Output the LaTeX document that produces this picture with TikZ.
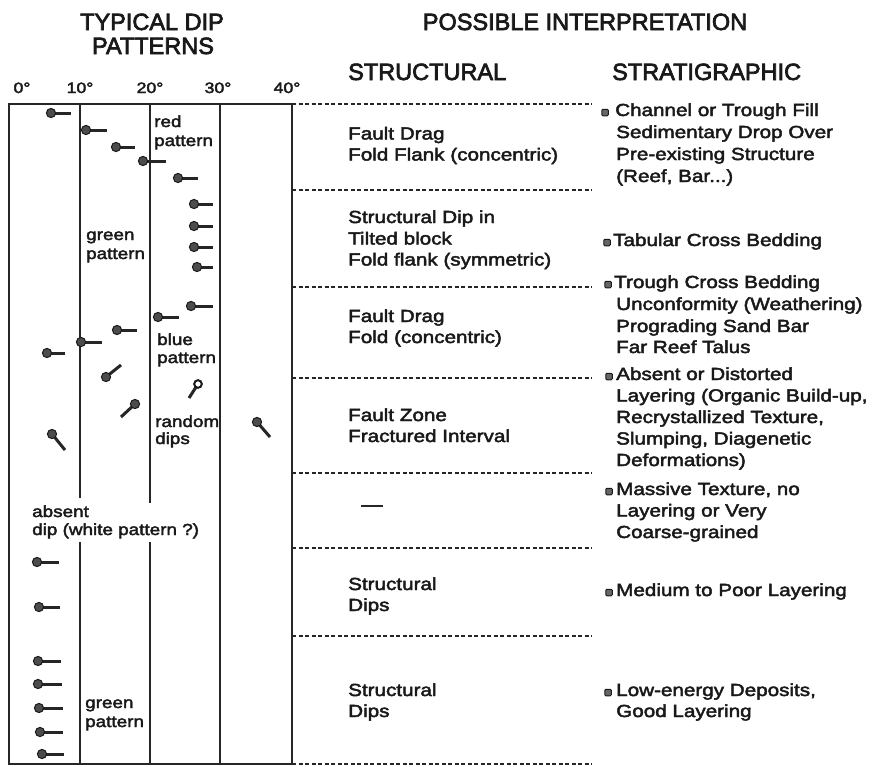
\documentclass[tikz,border=0pt]{standalone}
\usepackage{fontspec}
\setmainfont{Liberation Sans}[FakeStretch=1.18, FakeBold=2.6]
\newfontfamily\headfont{Liberation Sans}[FakeBold=3]
% dip marker: filled head at (#1,#2), tail ending at (#3,#4)
\newcommand\dippin[4]{%
  \draw[tadtail] (#1,#2) -- (#3,#4);
  \filldraw[tadhead] (#1,#2) circle (4.6);}
% dip marker with an open head
\newcommand\dipopen[4]{%
  \draw[tadtail] (#1,#2) -- (#3,#4);
  \filldraw[fill=white, draw=black!90, line width=2pt] (#1,#2) circle (3.8);}
\begin{document}
\begin{tikzpicture}[x=1pt, y=-1pt,
  boxline/.style={line width=1.6pt, draw=black!85},
  divider/.style={line width=1.5pt, dash pattern=on 4pt off 2.5pt, draw=black!85},
  heading/.style={font=\headfont\fontsize{23.5}{28}\selectfont, inner sep=0pt, anchor=base, text=black!90},
  body/.style={font=\fontsize{17.5}{21}\selectfont, anchor=base west, inner sep=0pt, text=black!90},
  tag/.style={font=\fontsize{16}{19}\selectfont, anchor=base west, inner sep=0pt, text=black!90},
  degree/.style={font=\fontsize{15}{18}\selectfont, anchor=base, inner sep=0pt, text=black!90},
  bullet/.style={rectangle, rounded corners=1pt, minimum size=6.5pt, inner sep=0pt, fill=black!60, draw=black!90, line width=1pt},
  tadtail/.style={line width=3pt, draw=black!85},
  tadhead/.style={fill=black!70, draw=black!90, line width=1pt},
]
\useasboundingbox (0,0) rectangle (878,766);

% ---- titles ----
\node[heading] (t1) at (152,30) {TYPICAL DIP};
\node[heading] (t2) at (153,54) {PATTERNS};
\node[heading] (t3) at (585,30) {POSSIBLE INTERPRETATION};
\node[heading, anchor=base west] (t4) at (348,80) {STRUCTURAL};
\node[heading, anchor=base west] (t5) at (612,80) {STRATIGRAPHIC};

% ---- dip scale ----
\node[degree] (d0) at (22,93) {0°};
\node[degree] (d1) at (80,93) {10°};
\node[degree] (d2) at (150,93) {20°};
\node[degree] (d3) at (218,93) {30°};
\node[degree] (d4) at (287,93) {40°};

% ---- dip track ----
\coordinate (tl) at (9,104);
\coordinate (br) at (292,764);
\draw[boxline] (tl) rectangle (br);
\draw[boxline] (80,104) -- (80,498) (80,542) -- (80,764);
\draw[boxline] (150,104) -- (150,503) (150,542) -- (150,764);
\draw[boxline] (220,104) -- (220,764);

% ---- interval dividers ----
\foreach \y in {104,190,287,378,473,548,636,764}
  \draw[divider] (292,\y) -- (592,\y);

% ---- dip markers ----
\dippin{51}{113}{71}{113}
\dippin{86}{130}{107}{130}
\dippin{116}{147}{135}{147}
\dippin{143}{161}{166}{161}
\dippin{178}{178}{198}{178}
\dippin{194}{204}{213}{204}
\dippin{194}{226}{213}{226}
\dippin{194}{247}{213}{247}
\dippin{197}{267}{213}{267}
\dippin{191}{306}{213}{306}
\dippin{158}{317}{179}{317}
\dippin{117}{330}{137}{330}
\dippin{81}{342}{102}{342}
\dippin{47}{353}{65}{353}
\dippin{106}{377}{121}{365}
\dippin{135}{404}{121}{417}
\dipopen{198}{384}{189}{398}
\dippin{52}{434}{65}{450}
\dippin{257}{422}{270}{437}
\dippin{37}{562}{59}{562}
\dippin{39}{607}{60}{607}
\dippin{38}{661}{61}{661}
\dippin{38}{684}{62}{684}
\dippin{39}{708}{63}{708}
\dippin{40}{732}{63}{732}
\dippin{42}{754}{64}{754}

% ---- pattern labels ----
\node[tag] (p1) at (154,127) {red};
\node[tag] (p2) at (154,146) {pattern};
\node[tag] (p3) at (86,240) {green};
\node[tag] (p4) at (86,259) {pattern};
\node[tag] (p5) at (157,345) {blue};
\node[tag] (p6) at (157,363) {pattern};
\node[tag] (p7) at (155,427) {random};
\node[tag] (p8) at (155,444) {dips};
\node[tag] (p9) at (32,517) {absent};
\node[tag] (p10) at (32,535) {dip (white pattern ?)};
\node[tag] (p11) at (85,708) {green};
\node[tag] (p12) at (85,727) {pattern};

% ---- structural interpretation ----
\node[body] (s1) at (348,139.5) {Fault Drag};
\node[body] (s2) at (348,160.5) {Fold Flank (concentric)};
\node[body] (s3) at (348,223) {Structural Dip in};
\node[body] (s4) at (348,244.5) {Tilted block};
\node[body] (s5) at (348,265.5) {Fold flank (symmetric)};
\node[body] (s6) at (348,322) {Fault Drag};
\node[body] (s7) at (348,343) {Fold (concentric)};
\node[body] (s8) at (348,421) {Fault Zone};
\node[body] (s9) at (348,442) {Fractured Interval};
\coordinate (n1) at (361,506);
\coordinate (n2) at (383,506);
\draw[line width=1.4pt, draw=black!85] (n1) -- (n2);
\node[body] (s10) at (348,590) {Structural};
\node[body] (s11) at (348,611) {Dips};
\node[body] (s12) at (348,696) {Structural};
\node[body] (s13) at (348,717) {Dips};

% ---- stratigraphic interpretation ----
\node[bullet] (b1) at (605,112.5) {};
\node[body] (r1) at (615,116) {Channel or Trough Fill};
\node[body] (r2) at (616,138) {Sedimentary Drop Over};
\node[body] (r3) at (616,160) {Pre-existing Structure};
\node[body] (r4) at (616,182) {(Reef, Bar...)};
\node[bullet] (b2) at (607,242.5) {};
\node[body] (r5) at (613,246) {Tabular Cross Bedding};
\node[bullet] (b3) at (608,284.5) {};
\node[body] (r6) at (614,288) {Trough Cross Bedding};
\node[body] (r7) at (616,310) {Unconformity (Weathering)};
\node[body] (r8) at (616,332) {Prograding Sand Bar};
\node[body] (r9) at (616,353) {Far Reef Talus};
\node[bullet] (b4) at (609,376.5) {};
\node[body] (r10) at (616,380) {Absent or Distorted};
\node[body] (r11) at (616,401.5) {Layering (Organic Build-up,};
\node[body] (r12) at (616,423) {Recrystallized Texture,};
\node[body] (r13) at (616,444.5) {Slumping, Diagenetic};
\node[body] (r14) at (616,466) {Deformations)};
\node[bullet] (b5) at (609,491.5) {};
\node[body] (r15) at (616,495) {Massive Texture, no};
\node[body] (r16) at (616,516.5) {Layering or Very};
\node[body] (r17) at (616,538) {Coarse-grained};
\node[bullet] (b6) at (609,592.5) {};
\node[body] (r18) at (616,596) {Medium to Poor Layering};
\node[bullet] (b7) at (608,692.5) {};
\node[body] (r19) at (616,696) {Low-energy Deposits,};
\node[body] (r20) at (616,717) {Good Layering};
\end{tikzpicture}
\end{document}
